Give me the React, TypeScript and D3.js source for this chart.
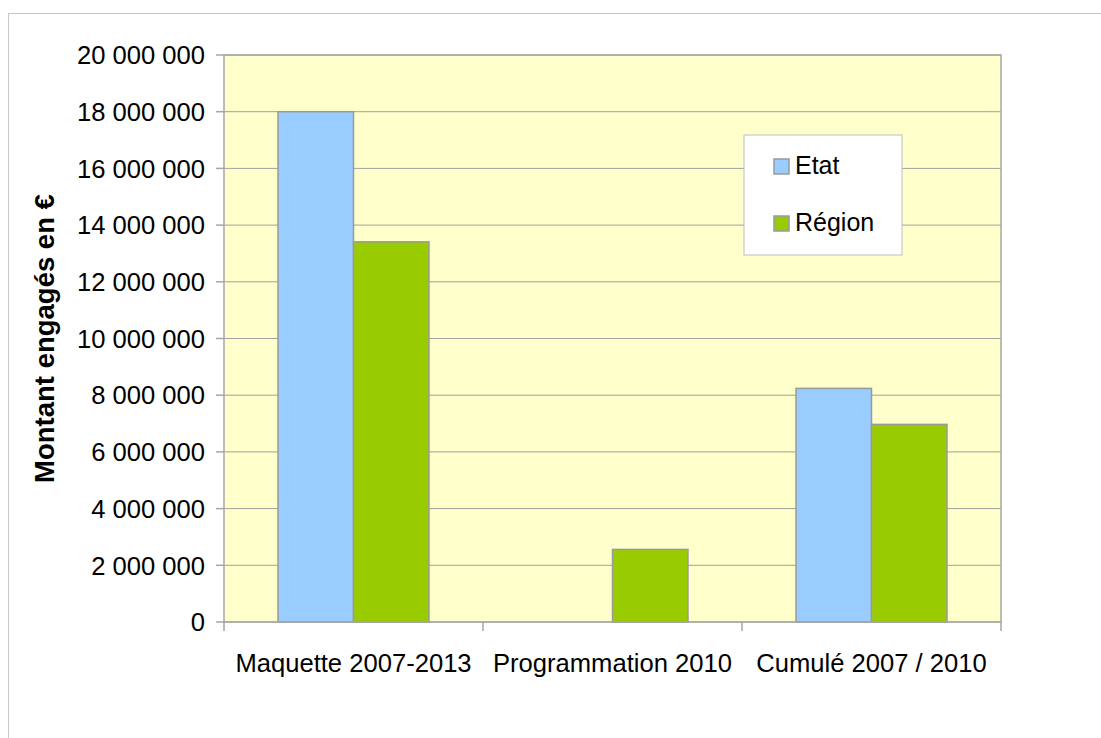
import React from "react";
import * as d3 from "d3";

const categories = ["Maquette 2007-2013", "Programmation 2010", "Cumulé 2007 / 2010"];
const seriesNames = ["Etat", "Région"];
const etatValues = [18000000, 0, 8240000];
const regionValues = [13410000, 2560000, 6970000];
const yTicks = [0, 2000000, 4000000, 6000000, 8000000, 10000000, 12000000, 14000000, 16000000, 18000000, 20000000];
const colors = ["#99ccff", "#99cc00"];

const W = 1101;
const H = 738;
const plot = { left: 224, right: 1001, top: 55, bottom: 622 };
const FONT = "'Liberation Sans', Arial, sans-serif";

function fmt(v: number) {
  return d3.format(",")(v).replace(/,/g, " ");
}

export default function App() {
  const y = d3.scaleLinear().domain([0, 20000000]).range([plot.bottom, plot.top]);
  const x = d3.scaleBand<string>().domain(categories).range([plot.left, plot.right]).padding(0);
  const bw = x.bandwidth();
  const inner = d3
    .scaleBand<string>()
    .domain(seriesNames)
    .range([bw * 0.2085, bw * (1 - 0.2085)])
    .padding(0);
  const seriesValues = [etatValues, regionValues];

  return (
    <svg
      width={W}
      height={H}
      style={{ position: "absolute", left: 0, top: 0, background: "#ffffff" }}
      fontFamily={FONT}
    >
      <rect x={8.5} y={13.5} width={1200} height={900} fill="#ffffff" stroke="#c8c8c8" strokeWidth={1} />
      <rect
        x={plot.left}
        y={plot.top}
        width={plot.right - plot.left}
        height={plot.bottom - plot.top}
        fill="#ffffcc"
      />
      {yTicks.map((t) => (
        <line key={"g" + t} x1={plot.left} x2={plot.right} y1={y(t)} y2={y(t)} stroke="#a0a0a0" strokeWidth={1} />
      ))}
      {seriesValues.map((vals, si) =>
        vals.map((v, ci) =>
          v > 0 ? (
            <rect
              key={si + "-" + ci}
              x={(x(categories[ci]) as number) + (inner(seriesNames[si]) as number)}
              y={y(v)}
              width={inner.bandwidth()}
              height={plot.bottom - y(v)}
              fill={colors[si]}
              stroke="#9a9a9a"
              strokeWidth={1.5}
            />
          ) : null
        )
      )}
      <rect
        x={plot.left}
        y={plot.top}
        width={plot.right - plot.left}
        height={plot.bottom - plot.top}
        fill="none"
        stroke="#a6a6a6"
        strokeWidth={1.5}
      />
      {yTicks.map((t) => (
        <g key={"t" + t}>
          <line x1={plot.left - 8} x2={plot.left} y1={y(t)} y2={y(t)} stroke="#a6a6a6" strokeWidth={1.5} />
          <text x={plot.left - 19} y={y(t)} dy="0.36em" textAnchor="end" fontSize={25.6} fill="#000">
            {fmt(t)}
          </text>
        </g>
      ))}
      {[...categories.map((c) => x(c) as number), plot.right].map((px, i) => (
        <line key={"xt" + i} x1={px} x2={px} y1={plot.bottom} y2={plot.bottom + 9} stroke="#a6a6a6" strokeWidth={1.5} />
      ))}
      {categories.map((c) => (
        <text
          key={c}
          x={(x(c) as number) + bw / 2}
          y={672}
          textAnchor="middle"
          fontSize={25.6}
          fill="#000"
        >
          {c}
        </text>
      ))}
      <text
        transform={`translate(54,${(plot.top + plot.bottom) / 2 + 0}) rotate(-90)`}
        textAnchor="middle"
        fontSize={27.5}
        fontWeight="bold"
        fill="#000"
      >
        Montant engagés en €
      </text>
      <rect x={744} y={135} width={158} height={120} fill="#ffffff" stroke="#bdbdbd" strokeWidth={1} />
      {seriesNames.map((s, i) => (
        <g key={s}>
          <rect
            x={774}
            y={159 + i * 57}
            width={15}
            height={15}
            fill={colors[i]}
            stroke="#9a9a9a"
            strokeWidth={1.5}
          />
          <text x={795} y={174 + i * 57} fontSize={25} fill="#000">
            {s}
          </text>
        </g>
      ))}
    </svg>
  );
}
